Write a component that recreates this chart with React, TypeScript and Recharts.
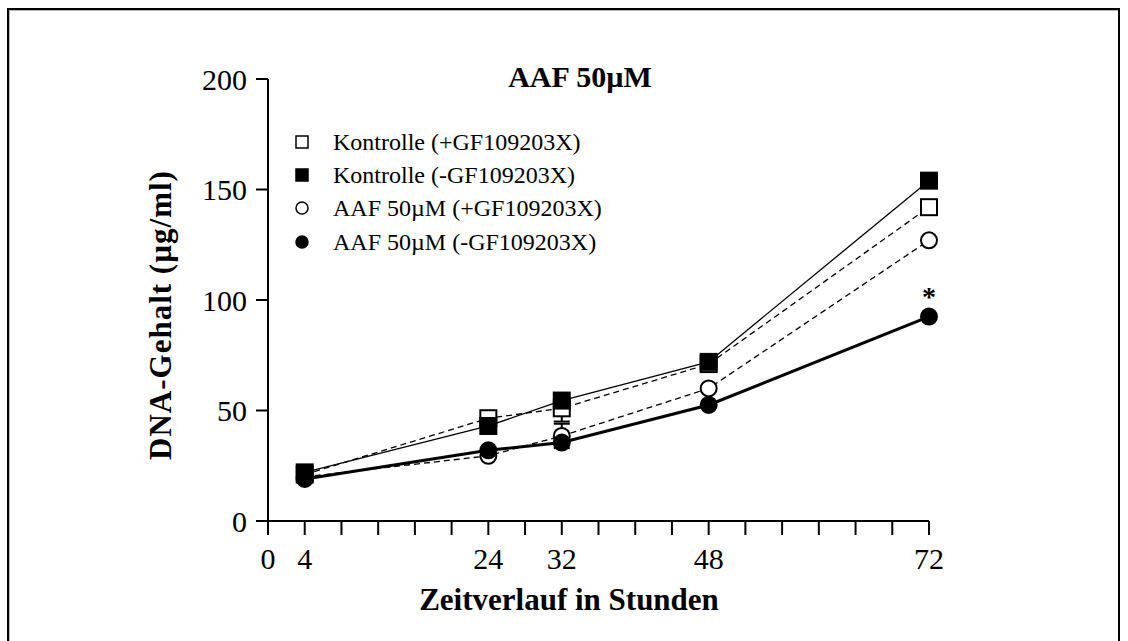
import React from "react";
import { LineChart, Line, XAxis, YAxis, ErrorBar, LabelList, Legend } from "recharts";

// Zeitpunkte (Stunden) und DNA-Gehalt (µg/ml)
const hours = [4, 24, 32, 48, 72];
const kontrollePlus = [21, 46.5, 51, 71, 142];
const kontrolleMinus = [22, 43, 54.5, 72, 154];
const aafPlus = [20, 29.5, 38.5, 60, 127];
const aafMinus = [19, 32, 35.5, 52.5, 92.5];
const kontrollePlusErr = [0, 0, 6, 0, 0];
const aafPlusErr = [0, 0, 5.5, 0, 0];
const aafMinusSig = ["", "", "", "", "*"];

const xTicks = [0, 4, 8, 12, 16, 20, 24, 28, 32, 36, 40, 44, 48, 52, 56, 60, 64, 68, 72];
const xTickLabels = [0, 4, 24, 32, 48, 72];
const yTicks = [0, 50, 100, 150, 200];

const seriesNames = [
  "Kontrolle (+GF109203X)",
  "Kontrolle (-GF109203X)",
  "AAF 50µM (+GF109203X)",
  "AAF 50µM (-GF109203X)",
];

const data = hours.map((h, i) => ({
  hour: h,
  kPlus: kontrollePlus[i],
  kMinus: kontrolleMinus[i],
  aPlus: aafPlus[i],
  aMinus: aafMinus[i],
  kPlusErr: kontrollePlusErr[i],
  aPlusErr: aafPlusErr[i],
  sig: aafMinusSig[i],
}));

const FONT = "'Liberation Serif', 'Times New Roman', serif";

const squareDot = (filled: boolean) => (props: any) => {
  const { cx, cy, index } = props;
  if (cx == null || cy == null) return <g key={`sq${index}`} />;
  return (
    <rect
      key={`sq${index}`}
      x={cx - 8}
      y={cy - 8}
      width={16}
      height={16}
      fill={filled ? "#000" : "#fff"}
      stroke="#000"
      strokeWidth={2}
    />
  );
};

const circleDot = (filled: boolean) => (props: any) => {
  const { cx, cy, index } = props;
  if (cx == null || cy == null) return <g key={`ci${index}`} />;
  return (
    <circle
      key={`ci${index}`}
      cx={cx}
      cy={cy}
      r={8}
      fill={filled ? "#000" : "#fff"}
      stroke="#000"
      strokeWidth={2}
    />
  );
};

const renderLegend = () => {
  const markers = [
    (y: number) => <rect x={6} y={y - 6} width={12} height={12} fill="#fff" stroke="#000" strokeWidth={1.5} />,
    (y: number) => <rect x={6} y={y - 6} width={12} height={12} fill="#000" stroke="#000" strokeWidth={1.5} />,
    (y: number) => <circle cx={12} cy={y} r={6} fill="#fff" stroke="#000" strokeWidth={1.5} />,
    (y: number) => <circle cx={12} cy={y} r={6} fill="#000" stroke="#000" strokeWidth={1.5} />,
  ];
  const rows = [20, 53, 86, 120];
  return (
    <svg width={360} height={140}>
      {seriesNames.map((name, i) => (
        <g key={name}>
          {markers[i](rows[i])}
          <text x={43} y={rows[i] + 8} fontFamily={FONT} fontSize={24} fill="#000">
            {name}
          </text>
        </g>
      ))}
    </svg>
  );
};

export default function App() {
  return (
    <div style={{ position: "absolute", left: 0, top: 0, width: 1128, height: 641, background: "#fff", overflow: "hidden" }}>
      <div
        style={{
          position: "absolute",
          left: 7,
          top: 8,
          width: 1109,
          height: 700,
          border: "2px solid #000",
          boxShadow: "inset 1px 1px 0 #bbb",
        }}
      />
      <div style={{ position: "absolute", left: 0, top: 0 }}>
        <LineChart width={1128} height={641} data={data} margin={{ top: 79, right: 199, bottom: 60, left: 188 }}>
          <XAxis
            dataKey="hour"
            type="number"
            domain={[0, 72]}
            ticks={xTicks}
            interval={0}
            tickFormatter={(v: number) => (xTickLabels.includes(v) ? String(v) : "")}
            tickSize={14}
            tickMargin={13}
            height={60}
            stroke="#000"
            strokeWidth={2}
            tick={{ fill: "#000", fontSize: 30, fontFamily: FONT }}
          />
          <YAxis
            type="number"
            domain={[0, 200]}
            ticks={yTicks}
            interval={0}
            tickSize={12}
            tickMargin={9}
            width={80}
            stroke="#000"
            strokeWidth={2}
            tick={{ fill: "#000", fontSize: 30, fontFamily: FONT }}
          />
          <Legend
            layout="vertical"
            align="center"
            verticalAlign="middle"
            content={renderLegend}
            wrapperStyle={{ position: "absolute", left: 290, top: 122, width: 360 }}
          />
          <Line
            dataKey="kPlus"
            name={seriesNames[0]}
            type="linear"
            stroke="#000"
            strokeWidth={1.3}
            strokeDasharray="6 4"
            dot={squareDot(false)}
            isAnimationActive={false}
          >
            <ErrorBar dataKey="kPlusErr" direction="y" width={8} stroke="#000" strokeWidth={2} />
          </Line>
          <Line
            dataKey="aPlus"
            name={seriesNames[2]}
            type="linear"
            stroke="#000"
            strokeWidth={1.3}
            strokeDasharray="6 4"
            dot={circleDot(false)}
            isAnimationActive={false}
          >
            <ErrorBar dataKey="aPlusErr" direction="y" width={8} stroke="#000" strokeWidth={2} />
          </Line>
          <Line
            dataKey="kMinus"
            name={seriesNames[1]}
            type="linear"
            stroke="#000"
            strokeWidth={1.3}
            dot={squareDot(true)}
            isAnimationActive={false}
          />
          <Line
            dataKey="aMinus"
            name={seriesNames[3]}
            type="linear"
            stroke="#000"
            strokeWidth={3}
            dot={circleDot(true)}
            isAnimationActive={false}
          >
            <LabelList dataKey="sig" position="top" offset={11} fill="#000" fontSize={28} fontWeight="bold" fontFamily={FONT} />
          </Line>
          <text x={580} y={87} textAnchor="middle" fontFamily={FONT} fontSize={30} fontWeight="bold" fill="#000">
            AAF 50µM
          </text>
          <text x={569} y={610} textAnchor="middle" fontFamily={FONT} fontSize={31} fontWeight="bold" fill="#000">
            Zeitverlauf in Stunden
          </text>
          <text
            transform="translate(171, 315) rotate(-90)"
            textAnchor="middle"
            fontFamily={FONT}
            fontSize={31}
            fontWeight="bold"
            letterSpacing={1}
            fill="#000"
          >
            DNA-Gehalt (µg/ml)
          </text>
        </LineChart>
      </div>
    </div>
  );
}
